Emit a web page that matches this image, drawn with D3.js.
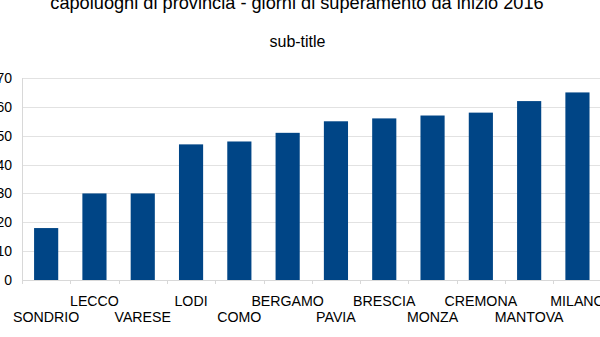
<!DOCTYPE html>
<html>
<head>
<meta charset="utf-8">
<script src="https://cdn.jsdelivr.net/npm/d3@7"></script>
<style>
  html, body { margin: 0; padding: 0; background: #fff; }
  svg { display: block; font-family: "Liberation Sans", Arial, sans-serif; }
</style>
</head>
<body>
<svg id="chart" width="600" height="337"></svg>
<script>
const titleText = "capoluoghi di provincia - giorni di superamento da inizio 2016";
const subtitleText = "sub-title";
const cities = ["SONDRIO", "LECCO", "VARESE", "LODI", "COMO", "BERGAMO", "PAVIA", "BRESCIA", "MONZA", "CREMONA", "MANTOVA", "MILANO"];
const days = [18, 30, 30, 47, 48, 51, 55, 56, 57, 58, 62, 65];
const yTicks = [0, 10, 20, 30, 40, 50, 60, 70];

(function () {
  const svg = d3.select("#chart");
  const plotLeft = 22, plotRight = 601.6, plotTop = 78, plotBottom = 280;

  const x = d3.scaleBand().domain(cities).range([plotLeft, plotRight]).paddingInner(0.5).paddingOuter(0.25);
  const y = d3.scaleLinear().domain([0, 70]).range([plotBottom, plotTop]);

  // titles
  svg.append("text").attr("x", 297).attr("y", 9).attr("text-anchor", "middle")
    .attr("font-size", 18.2).attr("fill", "#000").text(titleText);
  svg.append("text").attr("x", 297.5).attr("y", 47).attr("text-anchor", "middle")
    .attr("font-size", 16).attr("fill", "#000").text(subtitleText);

  // horizontal gridlines
  svg.append("g").selectAll("line").data(yTicks.filter(d => d > 0)).join("line")
    .attr("x1", plotLeft).attr("x2", plotRight)
    .attr("y1", d => Math.round(y(d)) + 0.5).attr("y2", d => Math.round(y(d)) + 0.5)
    .attr("stroke", "#e2e2e2").attr("stroke-width", 1);

  // y axis line
  svg.append("line").attr("x1", plotLeft + 0.5).attr("x2", plotLeft + 0.5).attr("y1", plotTop).attr("y2", plotBottom + 4)
    .attr("stroke", "#d8d8d8");

  // y tick labels
  svg.append("g").selectAll("text").data(yTicks).join("text")
    .attr("x", 12).attr("y", d => y(d)).attr("dy", "0.36em")
    .attr("text-anchor", "end").attr("font-size", 14).attr("fill", "#000")
    .text(d => d);

  // bars
  svg.append("g").selectAll("rect").data(days).join("rect")
    .attr("x", (d, i) => x(cities[i]))
    .attr("width", x.bandwidth())
    .attr("y", d => y(d))
    .attr("height", d => plotBottom - y(d))
    .attr("fill", "#004586");

  // x axis baseline and category boundary ticks
  svg.append("line").attr("x1", plotLeft).attr("x2", plotRight).attr("y1", plotBottom + 0.5).attr("y2", plotBottom + 0.5)
    .attr("stroke", "#d8d8d8");
  const step = x.step();
  svg.append("g").selectAll("line").data(d3.range(cities.length + 1)).join("line")
    .attr("x1", i => Math.round(plotLeft + i * step) + 0.5).attr("x2", i => Math.round(plotLeft + i * step) + 0.5)
    .attr("y1", plotBottom).attr("y2", plotBottom + 4)
    .attr("stroke", "#d8d8d8");

  // staggered category labels
  svg.append("g").selectAll("text").data(cities).join("text")
    .attr("x", d => x(d) + x.bandwidth() / 2)
    .attr("y", (d, i) => i % 2 === 0 ? 321.5 : 305.5)
    .attr("text-anchor", "middle").attr("font-size", 14.2).attr("fill", "#000")
    .text(d => d);
})();
</script>
</body>
</html>
